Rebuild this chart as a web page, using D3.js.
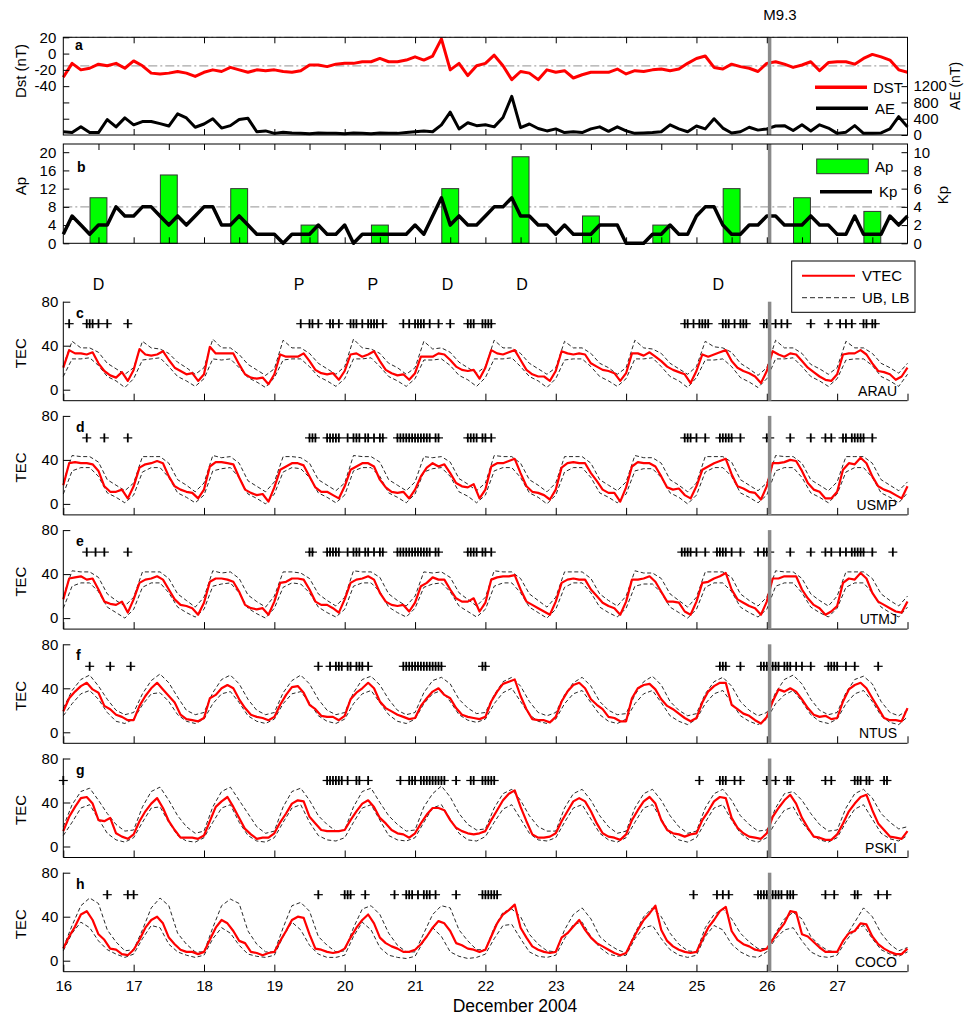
<!DOCTYPE html>
<html><head><meta charset="utf-8">
<script src="https://cdn.jsdelivr.net/npm/d3@7"></script>
<style>body{margin:0;background:#fff}svg{display:block}</style>
</head><body><svg width="966" height="1016"></svg>
<script>
// ---------------- DATA ----------------
const dayTicks = [16,17,18,19,20,21,22,23,24,25,26,27];
const eqDay = 26.04;
const eqLabel = "M9.3";
// Dst (nT), 3-hourly from Dec 16 00UT
const dstVals = [
-29,-12,-20,-18,-13,-15,-12,-18, -9,-15,-24,-25,-24,-22,-24,-28,
-23,-20,-22,-17,-20,-23,-20,-21, -20,-22,-23,-21,-14,-14,-16,-13,
-12,-12,-10,-10,-6,-10,-10,-8, -4,-8,-3,18,-20,-12,-27,-15,
-12,-2,-15,-32,-22,-24,-32,-20, -23,-21,-30,-26,-23,-23,-23,-19,
-25,-21,-22,-20,-19,-21,-19,-12, -6,-3,-17,-19,-13,-16,-18,-22,
-12,-10,-13,-17,-14,-10,-21,-11, -10,-10,-13,-6,-1,-4,-8,-20, -23];
// AE (nT), 3-hourly
const aeVals = [
80,60,200,60,60,380,200,420, 250,330,330,280,220,520,420,190,
270,400,170,230,380,410,80,100, 40,70,50,40,30,50,40,40,
30,50,40,30,50,40,40,60, 80,100,80,250,560,150,300,230,
250,200,430,950,180,270,160,100, 150,60,80,60,150,200,90,200,
100,40,50,60,80,250,150,80, 220,150,400,170,50,80,190,120,
150,220,230,110,250,100,250,170, 40,70,230,40,40,50,150,450, 200];
// Kp, 3-hourly
const kpVals = [
1,3,2,1,2,2,4,3, 3,4,4,3,2,3,2,3, 4,4,2,2,3,2,1,1, 1,0,1,1,1,2,1,1,
2,0,1,1,1,1,1,1, 2,1,3,5,2,3,2,2, 3,4,4,5,3,3,2,2, 1,2,1,1,1,2,2,2,
0,0,0,1,1,2,1,1, 3,4,4,2,1,1,2,2, 3,3,2,2,2,3,2,2, 1,1,3,1,1,1,3,2, 3];
// daily Ap
const apDays = [16,17,18,19,20,21,22,23,24,25,26,27];
const apVals = [10,15,12,4,4,12,19,6,4,12,10,7];

// storm-type labels
const typeLabels = ["D","P","P","D","D","D"];
const typeDays = [16.5,19.35,20.4,21.46,22.52,25.31];

// VTEC (TECU), 2-hourly from Dec 16 00UT
const vtecARAU = [
20,36,33,33,32,34,24,17,13,11,16,8, 18,37,32,31,32,35,27,20,17,14,15,8,
14,39,33,33,33,33,23,14,11,10,11,5, 14,32,30,30,30,33,26,18,15,14,15,9,
17,32,33,30,32,35,26,18,15,13,14,9, 15,30,30,30,33,32,27,21,18,17,18,10,
20,36,33,32,34,36,27,18,14,12,12,8, 17,35,33,32,33,32,24,21,18,17,15,8,
15,33,33,31,34,30,26,21,18,16,14,6, 17,32,30,32,34,36,26,20,17,15,12,6,
17,35,32,30,33,32,26,20,16,12,9,8, 14,32,33,33,36,32,24,17,16,14,9,12, 20];
const vtecUSMP = [
17,37,38,37,37,36,30,16,11,11,13,5, 16,33,36,37,39,37,25,16,13,11,10,5,
13,34,38,38,37,36,24,13,10,8,9,2, 15,31,34,37,37,35,25,15,11,11,8,5,
16,31,34,37,37,34,22,15,11,10,11,5, 13,25,33,37,34,36,28,19,16,15,18,5,
13,34,37,37,39,41,28,16,11,10,8,4, 13,33,37,38,37,37,28,21,13,10,10,2,
15,34,38,37,37,34,25,15,13,14,8,5, 16,31,34,37,39,41,27,16,14,11,10,4,
16,37,37,38,40,39,30,19,13,11,5,5, 11,31,37,36,42,37,25,16,13,11,8,5, 16];
const vtecUTMJ = [
17,36,37,38,35,36,26,15,13,12,15,5, 17,32,35,36,38,35,26,17,12,11,9,3,
14,33,36,36,35,33,24,12,9,8,9,3, 15,32,33,36,36,35,26,15,12,12,9,5,
17,32,35,36,38,35,23,15,12,11,12,6, 14,29,32,37,35,35,26,18,15,15,18,6,
14,35,37,38,38,39,26,15,12,9,6,3, 15,32,35,36,35,35,26,20,14,11,9,3,
15,35,35,36,38,33,24,15,15,14,6,3, 15,32,33,36,38,41,26,17,14,11,9,3,
15,36,36,38,38,38,26,18,12,9,3,6, 11,32,36,35,41,36,23,15,12,9,6,5, 15];
const vtecNTUS = [
19,31,37,42,45,39,36,24,21,16,14,11, 11,24,33,40,45,39,33,27,16,12,11,10,
13,31,34,40,43,40,30,22,16,14,13,11, 14,25,34,41,42,36,25,21,15,14,14,11,
15,30,36,40,45,40,28,22,19,16,14,12, 13,24,31,37,40,34,31,22,16,14,13,12,
14,28,37,44,46,48,33,21,12,11,11,9, 14,28,37,43,45,40,30,25,21,14,13,10,
10,31,40,43,44,39,30,24,21,17,13,10, 13,27,37,42,45,45,25,21,17,15,11,8,
14,28,39,37,40,37,30,22,16,14,15,12, 13,28,39,43,45,40,31,22,13,11,11,10, 22];
const vtecPSKI = [
14,27,36,44,45,39,24,23,26,12,9,7, 11,23,32,39,44,35,23,15,8,8,8,7,
10,23,36,41,45,36,26,16,11,7,8,8, 12,22,30,39,42,41,27,21,15,14,14,14,
15,24,32,39,42,36,26,21,15,12,11,8, 12,21,29,35,35,33,24,17,14,12,11,12,
14,24,33,42,48,51,36,23,11,8,8,9, 12,23,32,41,44,41,32,21,12,9,8,6,
11,24,33,41,45,39,24,15,12,11,9,11, 12,24,32,41,45,44,26,17,12,9,8,7,
12,27,35,42,47,39,26,17,9,8,6,6, 11,21,32,39,45,47,33,21,15,9,8,7, 14];
const vtecCOCO = [
11,22,31,42,45,37,24,19,11,10,6,5, 10,19,30,37,40,34,21,15,10,8,8,6,
8,19,30,37,34,27,18,16,8,7,5,7, 8,18,27,37,40,39,24,11,10,8,7,8,
11,21,30,37,42,34,21,16,13,11,8,8, 10,15,22,30,36,34,27,16,14,11,10,8,
10,22,34,42,46,51,30,21,13,10,8,7, 8,21,25,31,37,28,21,16,13,10,7,5,
7,18,28,37,43,50,28,18,13,10,8,7, 8,19,30,37,45,49,27,19,15,13,10,9,
11,19,27,34,45,44,24,22,17,12,8,8, 8,18,25,27,34,33,22,15,11,8,6,6, 11];

// Upper / lower bounds (TECU), 3-hourly
const ubARAU = [
22,44,38,38,34,24,19,14, 20,44,38,37,33,25,20,14, 20,46,38,38,32,23,18,13,
19,45,38,38,33,24,19,14, 21,46,38,37,33,24,20,14, 20,44,37,38,34,25,20,15,
21,45,38,38,33,24,19,14, 20,44,38,38,33,24,20,14, 20,45,38,37,33,24,19,14,
21,44,39,38,34,24,19,13, 20,45,38,38,33,23,19,14, 20,44,38,38,33,24,20,15, 24];
const lbARAU = [
12,28,28,29,22,12,8,2, 10,27,28,29,21,12,8,3, 10,28,27,28,20,11,7,2,
11,27,28,28,21,12,8,3, 10,28,28,29,21,12,8,3, 10,27,27,28,22,13,9,3,
11,28,28,29,21,12,8,2, 10,27,28,28,21,12,8,3, 10,28,28,29,21,12,8,2,
11,27,27,28,21,11,7,2, 10,28,28,29,21,12,8,3, 10,27,28,28,22,12,8,3, 14];
const ubUSMP = [
20,44,43,43,38,22,17,12, 19,43,43,43,37,22,17,11, 19,44,42,43,37,21,16,11,
20,43,43,42,37,22,17,12, 19,44,43,43,38,22,17,12, 20,43,42,43,38,23,18,12,
19,44,43,43,37,22,17,11, 19,43,43,43,37,22,17,12, 20,44,42,42,37,22,17,11,
19,43,43,43,38,22,17,12, 19,44,43,43,37,22,17,12, 20,43,43,43,37,22,17,12, 20];
const lbUSMP = [
9,30,33,33,25,10,6,1, 8,29,33,33,24,10,6,1, 8,30,32,33,24,9,5,0,
9,29,33,32,24,10,6,1, 8,30,33,33,25,10,6,1, 9,29,32,33,25,11,7,1,
8,30,33,33,24,10,6,0, 8,29,33,33,24,10,6,1, 9,30,32,32,24,10,6,0,
8,29,33,33,25,10,6,1, 8,30,33,33,24,10,6,1, 9,29,33,33,24,10,6,1, 10];
const ubUTMJ = [
20,43,42,42,37,22,16,11, 19,42,42,42,36,22,16,10, 19,43,41,42,36,21,15,10,
20,42,42,41,36,22,16,11, 19,43,42,42,37,22,16,11, 20,42,41,42,37,23,17,11,
19,43,42,42,36,22,16,10, 19,42,42,42,36,22,16,11, 20,43,41,41,36,22,16,10,
19,42,42,42,37,22,16,11, 19,43,42,42,36,22,16,11, 20,42,42,42,36,22,16,11, 20];
const lbUTMJ = [
9,29,32,32,24,10,5,0, 8,28,32,32,23,10,5,1, 8,29,31,32,23,9,4,0,
9,28,32,31,23,10,5,1, 8,29,32,32,24,10,5,1, 9,28,31,32,24,11,6,1,
8,29,32,32,23,10,5,0, 8,28,32,32,23,10,5,1, 9,29,31,31,23,10,5,0,
8,28,32,32,24,10,5,1, 8,29,32,32,23,10,5,1, 9,28,32,32,23,10,5,1, 10];
const ubNTUS = [
22,38,48,52,42,30,20,16, 18,35,47,53,45,32,20,16, 18,36,48,52,44,30,20,16,
18,36,47,52,44,30,20,16, 18,36,48,51,43,30,20,16, 18,36,47,50,44,30,22,17,
18,34,46,50,42,28,18,15, 18,34,45,50,42,28,20,16, 17,34,46,51,43,28,20,15,
17,35,46,50,42,28,20,15, 18,36,48,52,44,30,20,16, 18,36,48,51,44,28,18,15, 20];
const lbNTUS = [
15,26,35,38,30,18,10,8, 12,25,35,36,28,16,10,8, 12,26,35,37,27,15,10,8,
12,26,35,37,27,15,10,8, 12,26,35,38,27,16,10,8, 12,26,35,38,28,16,11,9,
12,26,36,40,28,16,10,8, 12,26,35,38,27,16,10,8, 12,26,35,38,27,15,10,7,
12,26,35,38,27,15,10,7, 12,26,34,38,28,16,10,8, 12,26,35,38,28,15,9,7, 14];
const ubPSKI = [
18,38,50,53,42,30,20,14, 15,36,50,54,42,28,18,12, 14,36,50,54,42,30,18,12,
14,36,50,53,42,28,20,14, 15,36,50,53,40,28,20,14, 15,36,48,55,45,30,20,15,
16,35,48,52,42,28,18,14, 14,35,48,52,42,28,18,12, 14,35,48,52,42,28,18,12,
14,35,48,52,42,28,20,14, 15,35,48,50,42,30,20,14, 15,35,48,52,44,30,22,16, 18];
const lbPSKI = [
10,22,35,38,25,12,6,4, 8,22,35,36,22,10,5,4, 8,22,35,38,22,10,5,4,
8,22,35,38,22,10,6,5, 8,22,35,38,24,10,6,5, 8,22,35,38,25,12,6,5,
9,22,34,38,25,12,6,5, 8,22,35,38,25,12,6,4, 8,22,35,38,25,12,6,4,
8,22,35,38,24,12,6,4, 8,22,33,36,22,12,6,4, 8,22,34,38,25,12,7,5, 10];
const ubCOCO = [
12,32,50,57,52,28,17,9, 10,28,48,57,50,25,15,8, 8,30,50,56,52,27,15,8,
8,30,50,53,45,22,14,8, 9,30,47,50,42,25,14,8, 8,25,42,50,48,28,18,10,
10,30,44,47,40,24,15,9, 8,28,42,48,38,22,15,10, 7,25,40,48,40,25,15,9,
8,30,42,47,38,25,17,11, 11,25,38,44,38,22,14,9, 8,22,35,48,40,25,15,9, 12];
const lbCOCO = [
9,25,35,30,18,10,6,3, 6,20,32,30,15,8,5,3, 5,20,30,25,14,6,4,3,
5,22,35,28,14,6,3,3, 5,22,35,28,12,5,3,2, 4,18,30,22,8,4,2,3,
6,20,32,33,20,8,4,3, 5,20,33,35,22,12,6,4, 5,20,30,32,20,10,5,3,
5,22,32,28,15,8,4,3, 8,20,28,30,18,8,4,3, 5,18,28,32,20,10,6,4, 8];

// anomaly hours (hours after Dec 16 00UT), drawn at TEC = 60
const anomARAU = [2,8,9,10,12,15,22,81,84,85,87,91,92,94,98,99,100,102,104,105,106,107,109,116,118,120,121,122,123,125,128,132,138,139,140,143,144,145,146,212,213,215,217,218,219,220,225,226,227,229,231,232,233,239,240,241,243,245,247,255,261,265,267,269,273,274,276,277];
const anomUSMP = [8,14,22,84,85,86,90,91,92,93,94,97,99,100,101,103,104,106,108,109,114,115,116,117,118,119,120,121,122,123,124,125,127,128,138,139,140,141,143,144,146,212,213,214,216,219,224,225,226,227,228,231,240,241,248,255,260,262,266,267,269,270,271,272,273,276];
const anomUTMJ = [8,11,14,22,84,85,90,91,92,93,94,97,99,100,101,103,104,106,108,109,114,115,116,117,118,119,120,121,122,123,124,125,127,128,138,139,140,141,143,144,146,211,212,213,214,216,219,223,224,225,226,228,231,237,239,240,241,248,255,260,262,265,267,269,270,271,272,273,276,283];
const anomNTUS = [9,16,23,87,91,93,94,95,97,98,100,101,102,104,116,117,118,119,120,121,122,123,124,125,126,127,128,129,143,144,224,225,226,231,238,239,240,241,242,243,244,246,247,248,250,252,255,261,262,263,264,267,270,278];
const anomPSKI = [0,90,91,92,93,94,95,97,100,101,104,115,118,119,120,122,123,124,125,126,127,128,129,130,134,139,140,143,144,145,146,147,217,224,225,226,229,231,240,241,243,247,248,260,262,270,271,272,274,275,280,281];
const anomCOCO = [15,22,24,87,96,97,98,103,113,117,118,119,121,123,124,125,127,134,143,144,145,146,147,148,215,223,225,227,237,238,239,240,241,242,243,244,245,247,248,249,260,263,270,271,278,281];

const stationNames = ["ARAU","USMP","UTMJ","NTUS","PSKI","COCO"];
const panelLetters = ["c","d","e","f","g","h"];

// ---------------- DRAWING ----------------
const FONT = '"Liberation Sans", Arial, Helvetica, sans-serif';
const svg = d3.select("svg").attr("font-family", FONT);
const x = d3.scaleLinear([16, 28], [63.3, 907.5]);
const X0 = x(16), X1 = x(28);
const refStroke = "#a8a8a8", refDash = "9,3,2,3";

function styleAxis(g, fs) {
  g.select(".domain").remove();
  g.attr("font-size", fs).attr("font-family", FONT);
  g.selectAll("line").attr("stroke", "#000");
}
function vText(x0, y0, t, fs) {
  svg.append("text").attr("transform", `translate(${x0},${y0}) rotate(-90)`)
    .attr("text-anchor", "middle").attr("font-size", fs).text(t);
}
function eqLine(y0, y1) {
  svg.append("line").attr("x1", x(eqDay)).attr("x2", x(eqDay)).attr("y1", y0).attr("y2", y1)
    .attr("stroke", "#8a8a8a").attr("stroke-width", 3.5);
}

// ===== Panel a =====
const aTop = 37.3, aBot = 135;
const yDst = d3.scaleLinear([-100, 20], [aBot, aTop]);
const yAE = d3.scaleLinear([0, 2400], [aBot, aTop]);
[20, -15].forEach(v => svg.append("line").attr("x1", X0).attr("x2", X1)
  .attr("y1", yDst(v)).attr("y2", yDst(v)).attr("stroke", refStroke).attr("stroke-width", 1.3).attr("stroke-dasharray", refDash));
const t8 = (d, i) => x(16 + i / 8);
svg.append("path").attr("d", d3.line().x(t8).y(d => yAE(d))(aeVals))
  .attr("fill", "none").attr("stroke", "#000").attr("stroke-width", 3).attr("stroke-linejoin", "round");
svg.append("path").attr("d", d3.line().x(t8).y(d => yDst(d))(dstVals))
  .attr("fill", "none").attr("stroke", "#ff0000").attr("stroke-width", 3).attr("stroke-linejoin", "round");
eqLine(aTop, aBot);
svg.append("rect").attr("x", X0).attr("y", aTop).attr("width", X1 - X0).attr("height", aBot - aTop)
  .attr("fill", "none").attr("stroke", "#000").attr("stroke-width", 1);
svg.append("g").attr("transform", `translate(${X0},0)`)
  .call(d3.axisLeft(yDst).tickValues([20, 0, -20, -40, -60, -80]).tickSize(-6).tickPadding(7)
    .tickFormat(d => d >= -40 ? String(d) : "")).call(g => styleAxis(g, 15));
svg.append("g").attr("transform", `translate(${X1},0)`)
  .call(d3.axisRight(yAE).tickValues([0, 400, 800, 1200]).tickSize(-6).tickPadding(6)
    .tickFormat(d => String(d))).call(g => styleAxis(g, 15));
svg.append("g").attr("transform", `translate(0,${aTop})`)
  .call(d3.axisTop(x).tickValues(d3.range(17, 28)).tickSize(-6).tickFormat("")).call(g => styleAxis(g, 15));
svg.append("g").attr("transform", `translate(0,${aBot})`)
  .call(d3.axisBottom(x).tickValues(d3.range(17, 28)).tickSize(-6).tickFormat("")).call(g => styleAxis(g, 15));
svg.append("text").attr("x", 75).attr("y", 50).attr("font-size", 14).attr("font-weight", "bold").text("a");
vText(26, 71, "Dst (nT)", 15);
vText(960, 86, "AE (nT)", 14);
svg.append("text").attr("x", 780).attr("y", 20).attr("text-anchor", "middle").attr("font-size", 15).text(eqLabel);
// legend a
svg.append("line").attr("x1", 815).attr("x2", 867).attr("y1", 87.3).attr("y2", 87.3).attr("stroke", "#ff0000").attr("stroke-width", 3.5);
svg.append("text").attr("x", 873).attr("y", 92.5).attr("font-size", 15).text("DST");
svg.append("line").attr("x1", 816).attr("x2", 868).attr("y1", 108.3).attr("y2", 108.3).attr("stroke", "#000").attr("stroke-width", 3.5);
svg.append("text").attr("x", 875).attr("y", 113.5).attr("font-size", 15).text("AE");

// ===== Panel b =====
const bTop = 144, bBot = 243.3;
const yAp = d3.scaleLinear([0, 21.8], [bBot, bTop]);
const yKp = d3.scaleLinear([0, 10.9], [bBot, bTop]);
svg.append("line").attr("x1", X0).attr("x2", X1).attr("y1", yAp(8)).attr("y2", yAp(8))
  .attr("stroke", refStroke).attr("stroke-width", 1.3).attr("stroke-dasharray", refDash);
svg.selectAll(".apbar").data(apVals).join("rect")
  .attr("x", (d, i) => x(apDays[i] + 0.5 - 0.12)).attr("width", x(16.24) - x(16))
  .attr("y", d => yAp(d)).attr("height", d => bBot - yAp(d))
  .attr("fill", "#00ff00").attr("stroke", "#333").attr("stroke-width", 1);
svg.append("path").attr("d", d3.line().x(t8).y(d => yKp(d))(kpVals))
  .attr("fill", "none").attr("stroke", "#000").attr("stroke-width", 3.5).attr("stroke-linejoin", "round");
eqLine(bTop, bBot);
svg.append("rect").attr("x", X0).attr("y", bTop).attr("width", X1 - X0).attr("height", bBot - bTop)
  .attr("fill", "none").attr("stroke", "#000").attr("stroke-width", 1);
svg.append("g").attr("transform", `translate(${X0},0)`)
  .call(d3.axisLeft(yAp).tickValues([0, 4, 8, 12, 16, 20]).tickSize(-6).tickPadding(7).tickFormat(d => String(d)))
  .call(g => styleAxis(g, 15));
svg.append("g").attr("transform", `translate(${X1},0)`)
  .call(d3.axisRight(yKp).tickValues([0, 2, 4, 6, 8, 10]).tickSize(-6).tickPadding(6).tickFormat(d => String(d)))
  .call(g => styleAxis(g, 15));
const halfTicks = d3.range(33, 56).map(v => v / 2);
svg.append("g").attr("transform", `translate(0,${bTop})`)
  .call(d3.axisTop(x).tickValues(halfTicks).tickSize(-6).tickFormat("")).call(g => styleAxis(g, 15));
svg.append("g").attr("transform", `translate(0,${bBot})`)
  .call(d3.axisBottom(x).tickValues(halfTicks).tickSize(-6).tickFormat("")).call(g => styleAxis(g, 15));
svg.append("text").attr("x", 77).attr("y", 172).attr("font-size", 14).attr("font-weight", "bold").text("b");
vText(26, 186, "Ap", 15);
vText(948, 195, "Kp", 15);
// legend b
svg.append("rect").attr("x", 816.7).attr("y", 159).attr("width", 51.6).attr("height", 14.7)
  .attr("fill", "#00ff00").attr("stroke", "#333").attr("stroke-width", 1);
svg.append("text").attr("x", 875).attr("y", 172).attr("font-size", 15).text("Ap");
svg.append("line").attr("x1", 820).attr("x2", 872).attr("y1", 191.7).attr("y2", 191.7).attr("stroke", "#000").attr("stroke-width", 3.5);
svg.append("text").attr("x", 879).attr("y", 197).attr("font-size", 15).text("Kp");

// storm type labels
svg.selectAll(".typ").data(typeLabels).join("text")
  .attr("x", (d, i) => x(typeDays[i])).attr("y", 290).attr("text-anchor", "middle").attr("font-size", 16).text(d => d);

// ===== TEC panels =====
const stations = [
  { vtec: vtecARAU, ub: ubARAU, lb: lbARAU, anom: anomARAU },
  { vtec: vtecUSMP, ub: ubUSMP, lb: lbUSMP, anom: anomUSMP },
  { vtec: vtecUTMJ, ub: ubUTMJ, lb: lbUTMJ, anom: anomUTMJ },
  { vtec: vtecNTUS, ub: ubNTUS, lb: lbNTUS, anom: anomNTUS },
  { vtec: vtecPSKI, ub: ubPSKI, lb: lbPSKI, anom: anomPSKI },
  { vtec: vtecCOCO, ub: ubCOCO, lb: lbCOCO, anom: anomCOCO }
].map((s, i) => Object.assign(s, { name: stationNames[i], letter: panelLetters[i] }));

stations.forEach((s, i) => {
  const top = 301.7 + i * 114.2, bot = top + 99;
  const y = d3.scaleLinear([-10, 80], [bot, top]);
  const g = svg.append("g");
  const l8 = d3.line().x((d, j) => x(16 + j / 8)).y(d => y(d));
  const l12 = d3.line().x((d, j) => x(16 + j / 12)).y(d => y(d));
  [s.ub, s.lb].forEach(arr => g.append("path").attr("d", l8(arr)).attr("fill", "none")
    .attr("stroke", "#111").attr("stroke-width", 0.9).attr("stroke-dasharray", "4,2.5"));
  g.append("path").attr("d", l12(s.vtec)).attr("fill", "none").attr("stroke", "#ff0000")
    .attr("stroke-width", 2.2).attr("stroke-linejoin", "round");
  const mk = g.selectAll(".an").data(s.anom).join("g")
    .attr("transform", h => `translate(${x(16 + h / 24)},${y(60)})`);
  mk.append("line").attr("x1", -4.5).attr("x2", 4.5).attr("stroke", "#000").attr("stroke-width", 1.2);
  mk.append("line").attr("y1", -4.5).attr("y2", 4.5).attr("stroke", "#000").attr("stroke-width", 1.8);
  eqLine(top, bot);
  // axes
  g.append("line").attr("x1", X0).attr("x2", X0).attr("y1", top).attr("y2", bot).attr("stroke", "#000");
  g.append("line").attr("x1", X0).attr("x2", X1).attr("y1", bot).attr("y2", bot).attr("stroke", "#000");
  g.append("g").attr("transform", `translate(${X0},0)`)
    .call(d3.axisLeft(y).tickValues([0, 40, 80]).tickSize(-7).tickPadding(5).tickFormat(d => String(d)))
    .call(a => styleAxis(a, 15));
  const bx = d3.axisBottom(x).tickValues(d3.range(16, 29)).tickSize(-7).tickPadding(9);
  bx.tickFormat(i === 5 ? (d => d < 28 ? String(d) : "") : "");
  g.append("g").attr("transform", `translate(0,${bot})`).call(bx).call(a => styleAxis(a, 15));
  g.append("text").attr("x", 76).attr("y", top + 16).attr("font-size", 14).attr("font-weight", "bold").text(s.letter);
  g.append("text").attr("x", 897).attr("y", bot - 5).attr("text-anchor", "end").attr("font-size", 14).text(s.name);
  vText(26, (top + bot) / 2 + 2, "TEC", 15);
});

// legend c
svg.append("rect").attr("x", 791.7).attr("y", 261).attr("width", 123.3).attr("height", 51.3)
  .attr("fill", "#fff").attr("stroke", "#000").attr("stroke-width", 1);
svg.append("line").attr("x1", 802).attr("x2", 855).attr("y1", 275.7).attr("y2", 275.7).attr("stroke", "#ff0000").attr("stroke-width", 2);
svg.append("text").attr("x", 862).attr("y", 281).attr("font-size", 15).text("VTEC");
svg.append("line").attr("x1", 802).attr("x2", 855).attr("y1", 297.7).attr("y2", 297.7).attr("stroke", "#111").attr("stroke-width", 0.9).attr("stroke-dasharray", "5,3");
svg.append("text").attr("x", 862).attr("y", 303).attr("font-size", 15).text("UB, LB");

svg.append("text").attr("x", 515).attr("y", 1012).attr("text-anchor", "middle").attr("font-size", 17.5).text("December 2004");
</script>
</body></html>
